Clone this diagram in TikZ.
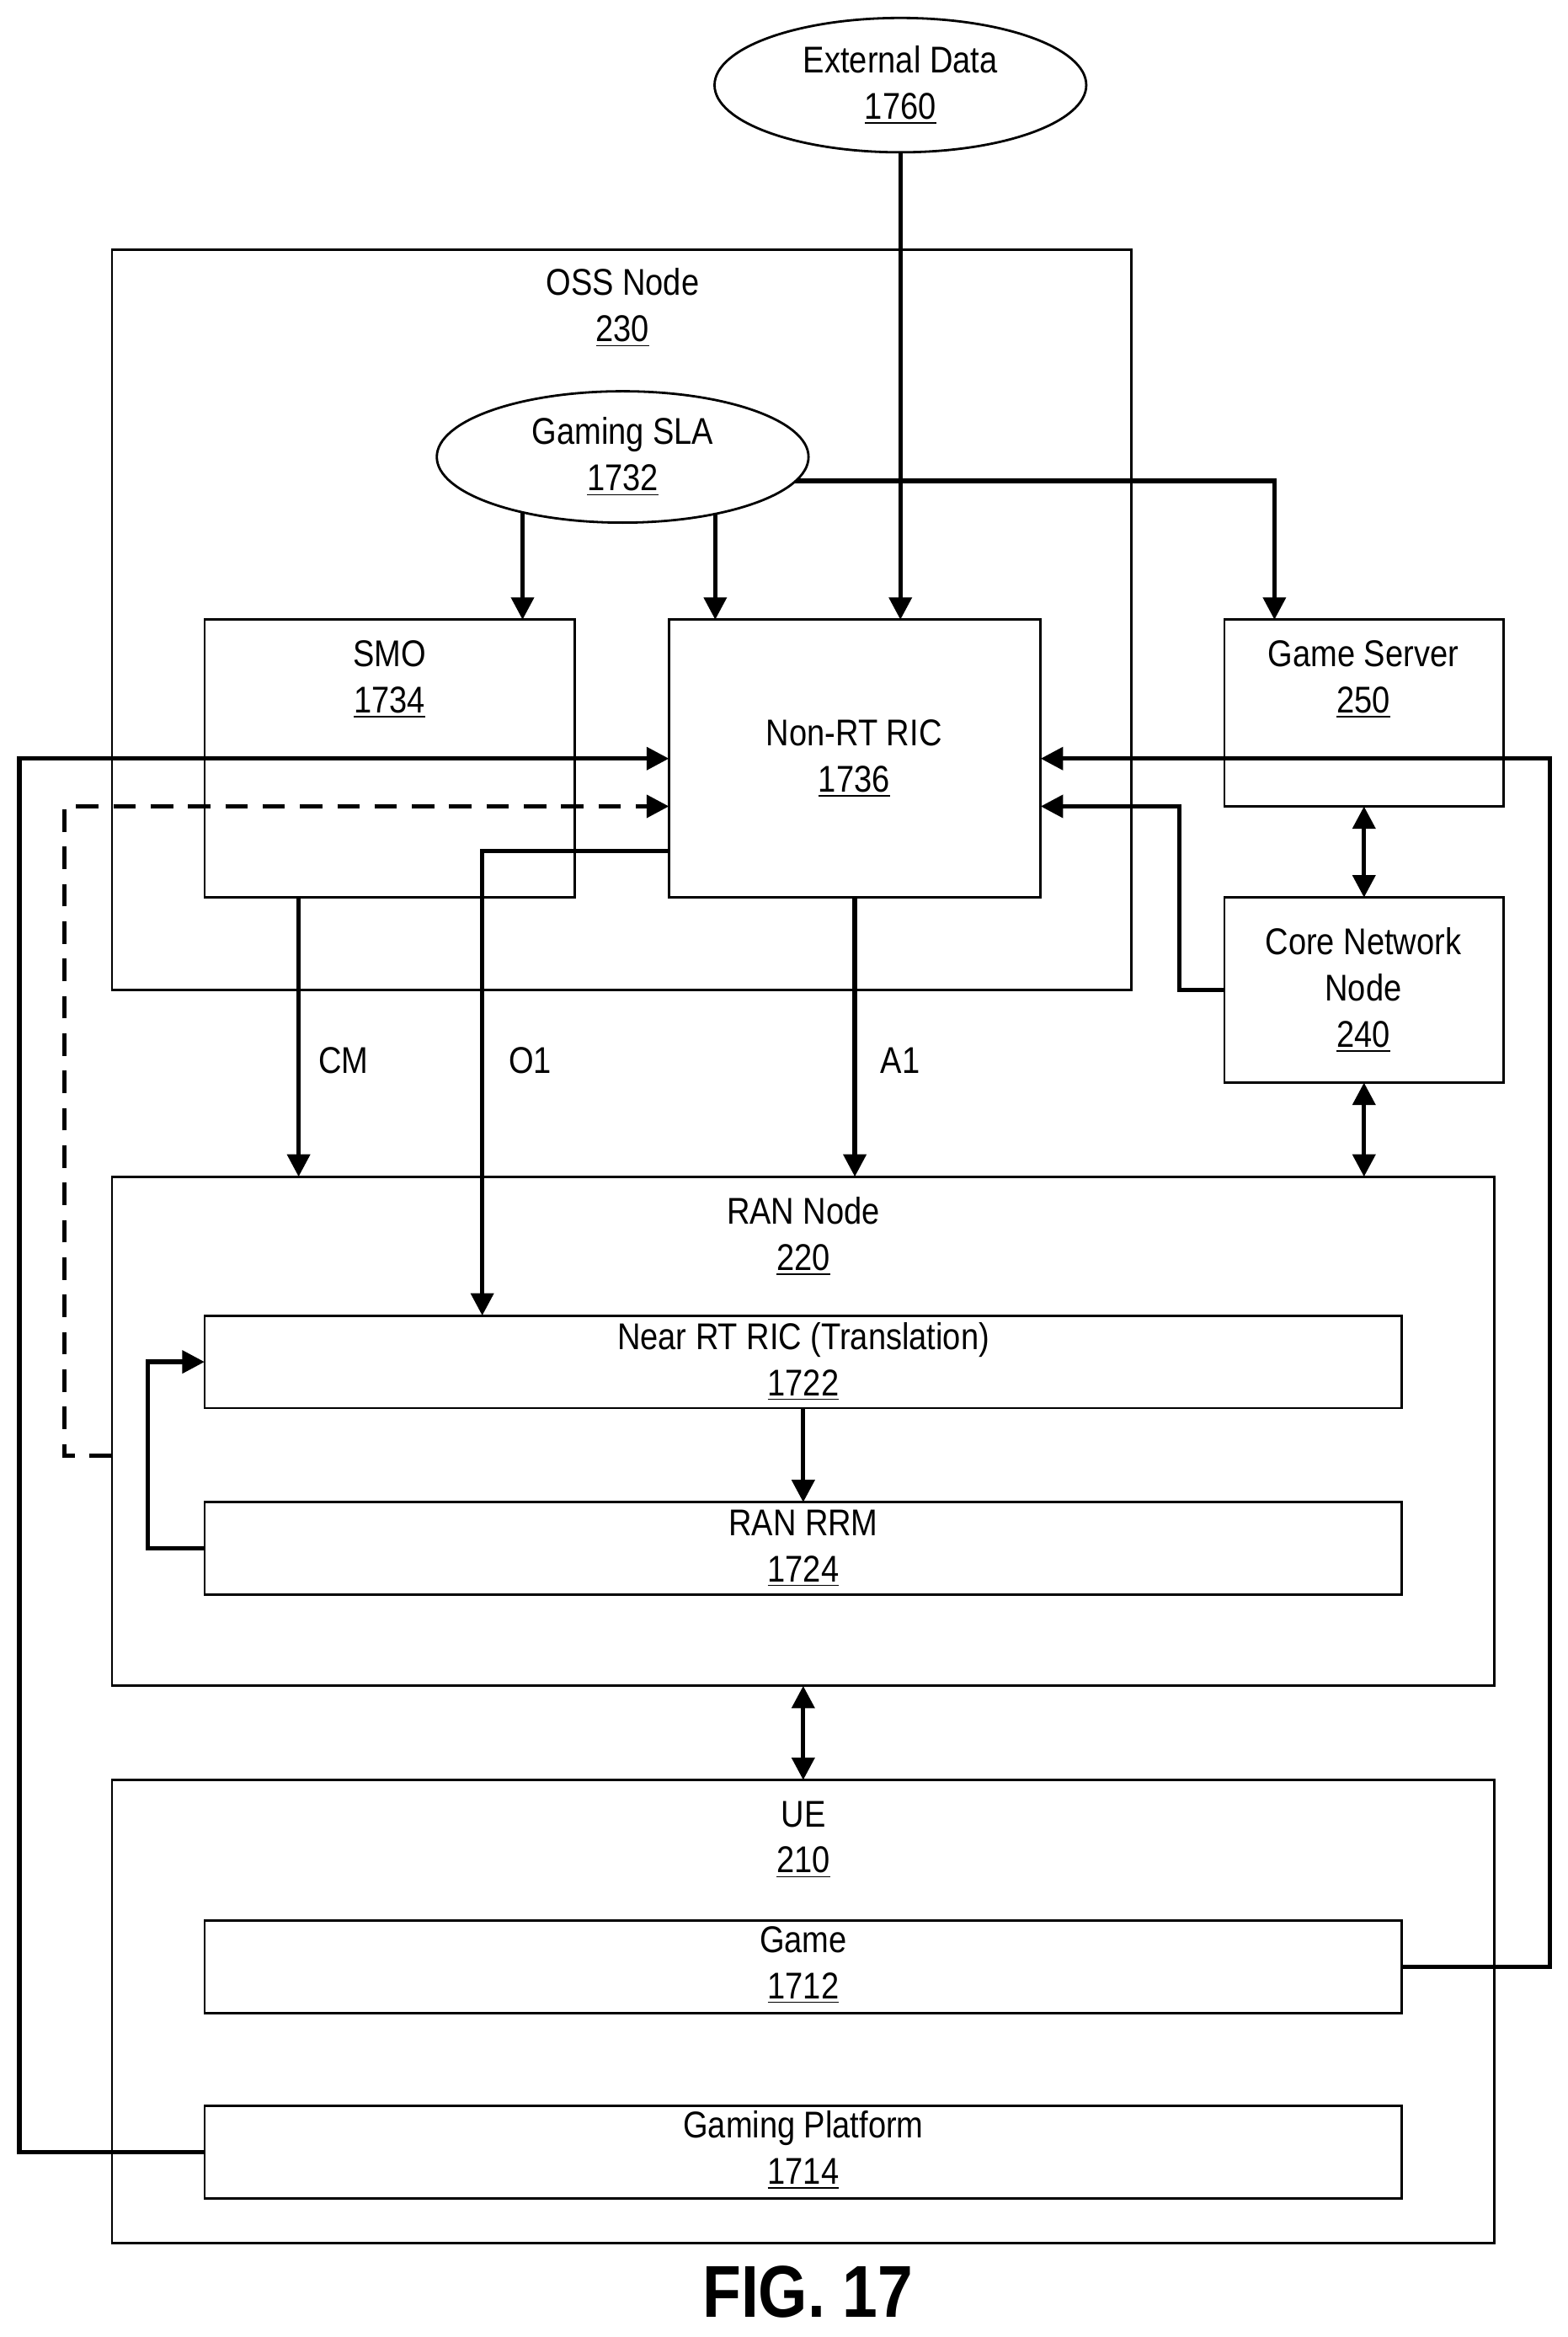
\documentclass[tikz,border=0pt]{standalone}
\usepackage{fontspec}
\setmainfont{Liberation Sans}[FakeStretch=0.86]
\usetikzlibrary{arrows.meta, shapes.geometric, backgrounds}
\tikzstyle{box} = [draw, rectangle, anchor=north west, inner sep=0, outer sep=0, line width=0.9pt]
\tikzstyle{oval} = [draw, ellipse, fill=white, inner sep=0, line width=0.9pt]
\tikzstyle{txt} = [align=center, font=\fontsize{14.2}{17.6}\selectfont]
\tikzstyle{arr} = [line width=1.7pt, -{Triangle[length=0.3cm, width=0.3cm]}]
\tikzstyle{darr} = [line width=1.7pt, {Triangle[length=0.3cm, width=0.3cm]}-{Triangle[length=0.3cm, width=0.3cm]}]

\begin{document}
\begin{tikzpicture}[x=0.02cm, y=-0.02cm]
  \useasboundingbox (0,0) rectangle (1050,1565);

  % boxes
  \node[box, minimum width=13.66cm, minimum height=9.92cm] (oss) at (75,167) {};
  \node[box, minimum width=4.96cm, minimum height=3.72cm] (smo) at (137,415) {};
  \node[box, minimum width=4.98cm, minimum height=3.72cm] (nonrt) at (448,415) {};
  \node[box, minimum width=3.74cm, minimum height=2.5cm] (gs) at (820,415) {};
  \node[box, minimum width=3.74cm, minimum height=2.48cm] (core) at (820,601) {};
  \node[box, minimum width=18.52cm, minimum height=6.82cm] (ran) at (75,788) {};
  \node[box, minimum width=16.04cm, minimum height=1.24cm] (nearrt) at (137,881) {};
  \node[box, minimum width=16.04cm, minimum height=1.24cm] (rrm) at (137,1006) {};
  \node[box, minimum width=18.52cm, minimum height=6.2cm] (ue) at (75,1192) {};
  \node[box, minimum width=16.04cm, minimum height=1.24cm] (game) at (137,1286) {};
  \node[box, minimum width=16.04cm, minimum height=1.24cm] (platform) at (137,1410) {};
  \node[oval, minimum width=4.98cm, minimum height=1.8cm] (ext) at (603,57) {};
  \node[oval, minimum width=4.98cm, minimum height=1.76cm] (sla) at (417,306) {};

  % texts
  \node[txt] (ext_t) at (603,57) {External Data\\\underline{1760}};
  \node[txt] (oss_t) at (417,206) {OSS Node\\\underline{230}};
  \node[txt] (sla_t) at (417,306) {Gaming SLA\\\underline{1732}};
  \node[txt] (smo_t) at (261,455) {SMO\\\underline{1734}};
  \node[txt] (nonrt_t) at (572,508) {Non-RT RIC\\\underline{1736}};
  \node[txt] (gs_t) at (913,455) {Game Server\\\underline{250}};
  \node[txt] (core_t) at (913,663) {Core Network\\Node\\\underline{240}};
  \node[txt] (ran_t) at (538,828) {RAN Node\\\underline{220}};
  \node[txt] (nearrt_t) at (538,912) {Near RT RIC (Translation)\\\underline{1722}};
  \node[txt] (rrm_t) at (538,1037) {RAN RRM\\\underline{1724}};
  \node[txt] (ue_t) at (538,1232) {UE\\\underline{210}};
  \node[txt] (game_t) at (538,1316) {Game\\\underline{1712}};
  \node[txt] (platform_t) at (538,1440) {Gaming Platform\\\underline{1714}};
  \node[txt] (cm) at (230,710) {CM};
  \node[txt] (o1) at (355,710) {O1};
  \node[txt] (a1) at (603,710) {A1};
  \node[font=\fontsize{28}{30}\bfseries\selectfont] (fig) at (541,1535) {FIG. 17};

  % arrows from the ovals
  \begin{pgfonlayer}{background}
    \draw[arr] (ext.south) -- (ext.south |- nonrt.north);
    \draw[arr] ([xshift=4.26cm]smo.north west |- sla.center) -- ([xshift=4.26cm]smo.north west);
    \draw[arr] ([xshift=0.62cm]nonrt.north west |- sla.center) -- ([xshift=0.62cm]nonrt.north west);
    \draw[arr] ([yshift=-0.32cm]sla.center) -| ([xshift=-1.2cm]gs.north);
  \end{pgfonlayer}

  % interfaces
  \draw[arr] ([xshift=1.26cm]smo.south west) -- ([xshift=1.26cm]smo.south west |- ran.north);
  \draw[arr] ([yshift=-3.1cm]nonrt.north west) -| ([xshift=3.72cm]nearrt.north west);
  \draw[arr] (nonrt.south) -- (nonrt.south |- ran.north);
  \draw[darr] (gs.south) -- (core.north);
  \draw[darr] (core.south) -- (core.south |- ran.north);
  \draw[arr] (core.west) -- ++(-30,0) |- ([yshift=-2.5cm]nonrt.north east);
  \draw[arr] (game.east) -- ++(99,0) |- (nonrt.east);
  \draw[arr] (platform.west) -- ++(-124,0) |- (nonrt.west);
  \draw[arr, dashed, dash pattern=on 0.3cm off 0.2cm] ([yshift=-0.33cm]ran.west) -- ++(-32,0) |- ([yshift=-2.5cm]nonrt.north west);
  \draw[arr] (rrm.west) -- ++(-38,0) |- (nearrt.west);
  \draw[arr] (nearrt.south) -- (rrm.north);
  \draw[darr] (ran.south) -- (ue.north);
\end{tikzpicture}
\end{document}
